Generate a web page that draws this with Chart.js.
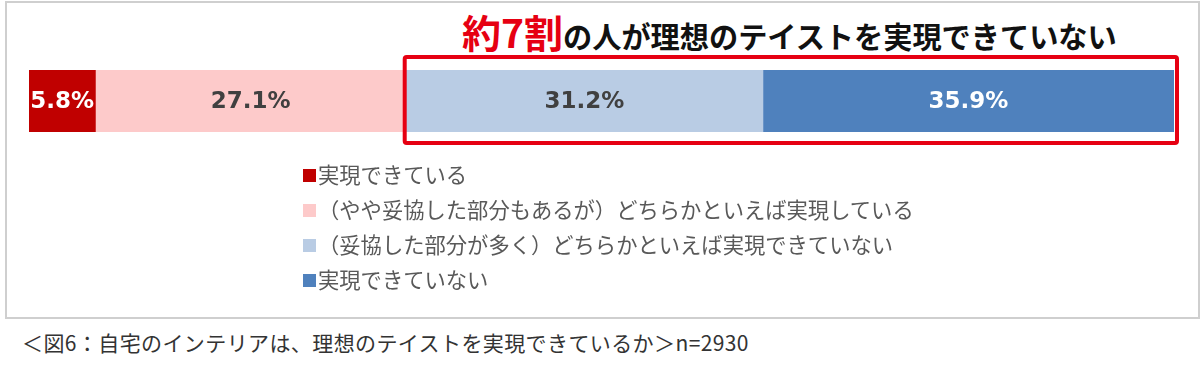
<!DOCTYPE html>
<html lang="ja">
<head>
<meta charset="utf-8">
<script src="https://cdn.jsdelivr.net/npm/chart.js@4/dist/chart.umd.min.js"></script>
<style>
  body { margin: 0; width: 1200px; height: 372px; background: #fff; position: relative; overflow: hidden;
         font-family: "Noto Sans CJK JP", "Noto Sans", sans-serif; }
  #frame { position: absolute; left: 5px; top: 1px; width: 1191px; height: 314px; border: 2px solid #cfcfcf; }
  #title { position: absolute; left: 462px; top: 6px; white-space: nowrap; font-weight: bold; color: #111; font-size: 29.2px; line-height: 50px; }
  #title .hl { color: #e60012; font-size: 39px; }
  #wrap { position: absolute; left: 0; top: 40px; width: 1200px; height: 120px; }
  #legend { position: absolute; left: 303px; top: 156px; }
  .item { height: 35px; display: flex; align-items: center; color: #595959; font-size: 21.3px; white-space: nowrap; }
  .sw { width: 13px; height: 13px; margin-right: 2px; margin-top: 4px; flex: none; }
  #caption { position: absolute; left: 22px; top: 327px; font-size: 21px; color: #333; white-space: nowrap; letter-spacing: 0.4px; }
</style>
</head>
<body>
<div id="frame"></div>
<div id="title"><span class="hl">約7割</span>の人が理想のテイストを実現できていない</div>
<div id="wrap"><canvas id="chart"></canvas></div>
<div id="legend"></div>
<div id="caption">＜図6：自宅のインテリアは、理想のテイストを実現できているか＞n=2930</div>
<script>
const categories = ["全体"];
const seriesNames = [
  "実現できている",
  "（やや妥協した部分もあるが）どちらかといえば実現している",
  "（妥協した部分が多く）どちらかといえば実現できていない",
  "実現できていない"
];
const seriesValues = [5.8, 27.1, 31.2, 35.9];
const seriesColors = ["#c00000", "#fdcaca", "#b9cce4", "#4f81bd"];
const labelColors = ["#ffffff", "#404040", "#404040", "#ffffff"];

// segment labels in the middle of each bar piece
const valueLabels = {
  id: "valueLabels",
  afterDatasetsDraw(c) {
    const ctx = c.ctx;
    ctx.save();
    ctx.font = "bold 23px 'DejaVu Sans'";
    ctx.textAlign = "center";
    ctx.textBaseline = "middle";
    c.data.datasets.forEach((ds, i) => {
      const bar = c.getDatasetMeta(i).data[0];
      ctx.fillStyle = labelColors[i];
      ctx.fillText(ds.data[0].toFixed(1) + "%", (bar.base + bar.x) / 2, bar.y + 1);
    });
    ctx.restore();
  }
};

// red box around the two "not realised" segments
const highlightBox = {
  id: "highlightBox",
  afterDraw(c) {
    const ctx = c.ctx;
    const x = c.scales.x;
    const from = seriesValues[0] + seriesValues[1];
    const left = x.getPixelForValue(from) - 1;
    const right = x.getPixelForValue(100) + 3;
    const top = c.chartArea.top - 13;
    const bottom = c.chartArea.bottom + 11;
    ctx.save();
    ctx.strokeStyle = "#e60012";
    ctx.lineWidth = 4;
    ctx.beginPath();
    ctx.roundRect(left, top, right - left, bottom - top, 2);
    ctx.stroke();
    ctx.restore();
  }
};

new Chart(document.getElementById("chart"), {
  type: "bar",
  data: {
    labels: categories,
    datasets: seriesNames.map((name, i) => ({
      label: name,
      data: [seriesValues[i]],
      backgroundColor: seriesColors[i],
      borderWidth: 0,
      barPercentage: 1,
      categoryPercentage: 1
    }))
  },
  options: {
    indexAxis: "y",
    responsive: true,
    maintainAspectRatio: false,
    animation: false,
    layout: { padding: { left: 29, right: 26, top: 30, bottom: 28 } },
    scales: {
      x: { stacked: true, min: 0, max: 100, display: false },
      y: { stacked: true, display: false }
    },
    plugins: { legend: { display: false }, tooltip: { enabled: false } }
  },
  plugins: [valueLabels, highlightBox]
});

document.getElementById("legend").innerHTML = seriesNames.map((n, i) =>
  `<div class="item"><span class="sw" style="background:${seriesColors[i]}"></span>${n}</div>`
).join("");
</script>
</body>
</html>
